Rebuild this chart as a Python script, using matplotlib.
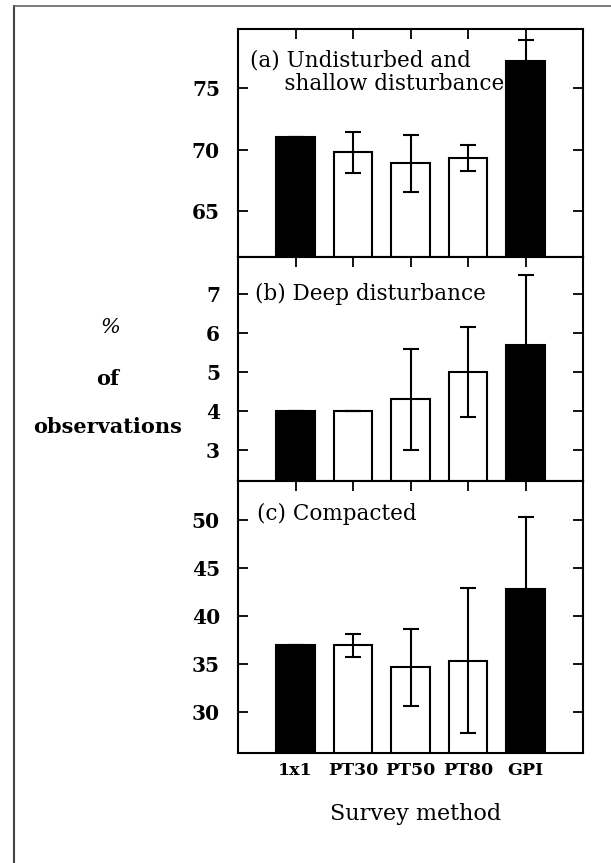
import matplotlib
matplotlib.use("Agg")
import matplotlib.pyplot as plt
from matplotlib.lines import Line2D

# Data
methods = ['1x1', 'PT30', 'PT50', 'PT80', 'GPI']
bar_colors = ['black', 'white', 'white', 'white', 'black']

undisturbed = [71.0, 69.8, 68.9, 69.3, 77.2]
undisturbed_err = [0, 1.65, 2.3, 1.05, 1.7]

deep = [4.0, 4.0, 4.3, 5.0, 5.7]
deep_err = [0, 0, 1.3, 1.15, 1.8]

compacted = [37.0, 37.0, 34.7, 35.4, 42.9]
compacted_err = [0, 1.2, 4.0, 7.6, 7.4]

plt.rcParams['font.family'] = 'DejaVu Serif'

fig = plt.figure(figsize=(6.11, 8.63), dpi=100)

left, width = 238 / 611, 345 / 611
ax_a = fig.add_axes([left, 1 - 257 / 863, width, 228 / 863])
ax_b = fig.add_axes([left, 1 - 481 / 863, width, 224 / 863])
ax_c = fig.add_axes([left, 1 - 752.7 / 863, width, 271.7 / 863])

panels = [
    (ax_a, undisturbed, undisturbed_err, (61.3, 79.8), [65, 70, 75]),
    (ax_b, deep, deep_err, (2.2, 7.95), [3, 4, 5, 6, 7]),
    (ax_c, compacted, compacted_err, (25.8, 54.1), [30, 35, 40, 45, 50]),
]

x = range(len(methods))
for ax, vals, errs, ylim, yticks in panels:
    ax.bar(x, vals, width=0.67, color=bar_colors, edgecolor='black',
           linewidth=1.5, zorder=2)
    ax.errorbar(x, vals, yerr=errs, fmt='none', ecolor='black',
                elinewidth=1.5, capsize=5.5, capthick=1.5, zorder=3)
    ax.set_xlim(-1, 5)
    ax.set_ylim(*ylim)
    ax.set_yticks(yticks)
    ax.set_xticks(list(x))
    ax.tick_params(direction='in', length=7, width=1.3, top=True, right=True)
    ax.tick_params(axis='y', labelsize=14.5, pad=13)
    for lab in ax.get_yticklabels():
        lab.set_fontweight('bold')
    for sp in ax.spines.values():
        sp.set_linewidth(1.5)

ax_a.set_xticklabels([])
ax_b.set_xticklabels([])
ax_c.set_xticklabels(methods, fontsize=12.5, fontweight='bold')
ax_c.tick_params(axis='x', pad=7)

ax_a.text(0.035, 0.912, '(a) Undisturbed and\n     shallow disturbance',
          transform=ax_a.transAxes, ha='left', va='top', fontsize=15.5,
          linespacing=1.1)
ax_b.text(0.049, 0.884, '(b) Deep disturbance', transform=ax_b.transAxes,
          ha='left', va='top', fontsize=15.5)
ax_c.text(0.055, 0.919, '(c) Compacted', transform=ax_c.transAxes,
          ha='left', va='top', fontsize=15.5)

fig.text(416 / 611, 1 - 814 / 863, 'Survey method', ha='center',
         va='center', fontsize=16)

fig.text(110 / 611, 1 - 327 / 863, '%', ha='center', va='center',
         fontsize=15, style='italic')
fig.text(108 / 611, 1 - 379 / 863, 'of', ha='center', va='center',
         fontsize=15, fontweight='bold')
fig.text(108 / 611, 1 - 427 / 863, 'observations', ha='center',
         va='center', fontsize=15, fontweight='bold')

# outer frame (left and top edges)
fig.add_artist(Line2D([14 / 611, 14 / 611], [0, 1 - 6 / 863],
                      transform=fig.transFigure, color='#444444', lw=1.5))
fig.add_artist(Line2D([14 / 611, 1], [1 - 6 / 863, 1 - 6 / 863],
                      transform=fig.transFigure, color='#666666', lw=1.2))

fig.savefig('out.png', dpi=100)
